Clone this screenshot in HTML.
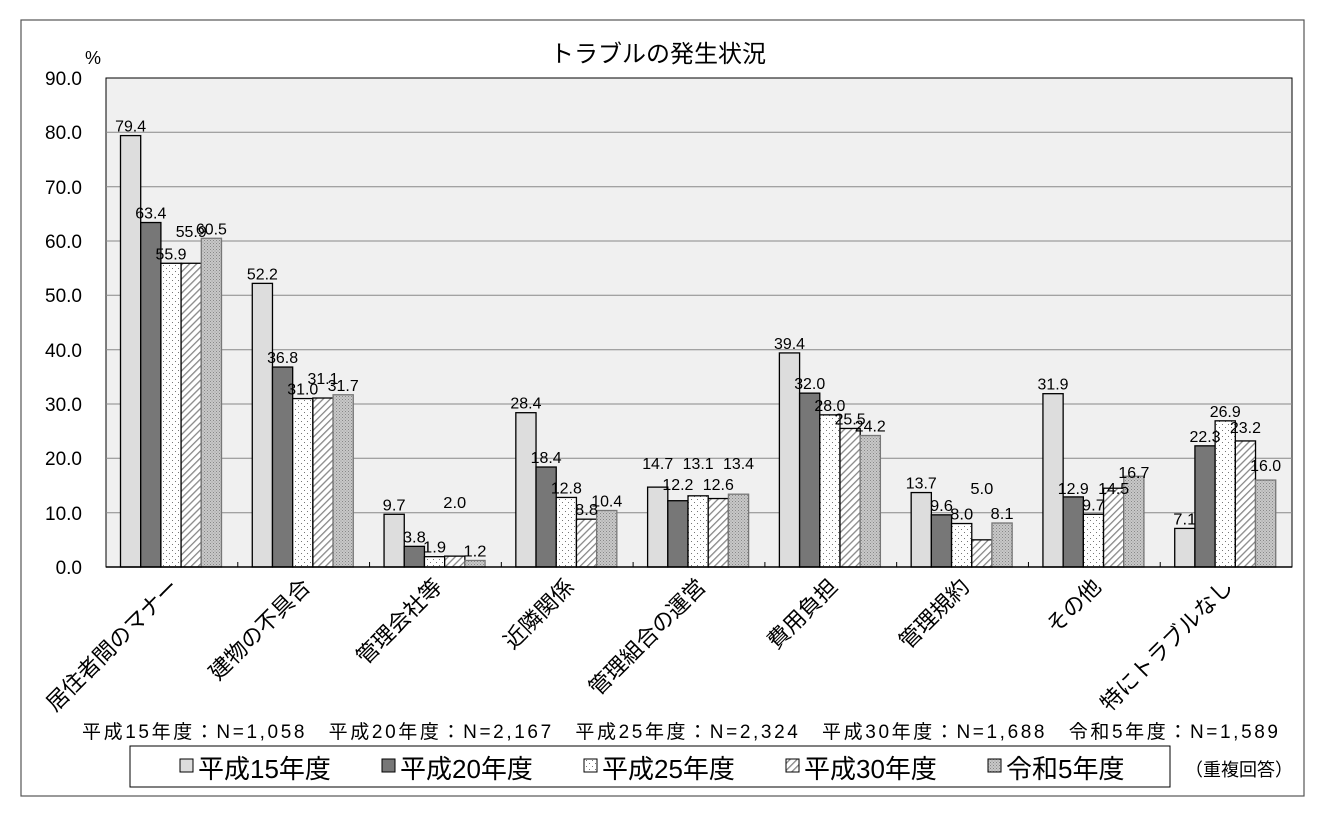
<!DOCTYPE html><html><head><meta charset="utf-8"><style>body{margin:0;background:#fff}svg{display:block}text{font-family:"Liberation Sans","Noto Sans CJK JP",sans-serif}</style></head><body>
<svg width="1324" height="818" viewBox="0 0 1324 818">
<defs>
<pattern id="dot" width="6" height="6" patternUnits="userSpaceOnUse"><rect width="6" height="6" fill="#fff"/><rect x="1" y="1" width="1" height="1" fill="#777"/><rect x="4" y="4" width="1" height="1" fill="#777"/></pattern>
<pattern id="hat" width="5" height="5" patternUnits="userSpaceOnUse" patternTransform="rotate(45)"><rect width="5" height="5" fill="#fff"/><rect width="1.3" height="5" fill="#888"/></pattern>
<pattern id="chk" width="3" height="3" patternUnits="userSpaceOnUse"><rect width="3" height="3" fill="#c8c8c8"/><rect width="1" height="1" fill="#888"/><rect x="1.5" y="1.5" width="1" height="1" fill="#999"/></pattern>
</defs>
<rect x="21" y="20" width="1283" height="776" fill="#fff" stroke="#555" stroke-width="1.2"/>
<text x="658" y="62" font-size="24" text-anchor="middle">トラブルの発生状況</text>
<text x="85" y="64" font-size="18">%</text>
<rect x="106" y="78" width="1186" height="489" fill="#f0f0f0" stroke="#000"/>
<g stroke="#888" stroke-width="1">
<line x1="106" x2="1292" y1="132.3" y2="132.3"/><line x1="106" x2="1292" y1="186.7" y2="186.7"/><line x1="106" x2="1292" y1="241" y2="241"/><line x1="106" x2="1292" y1="295.3" y2="295.3"/><line x1="106" x2="1292" y1="349.7" y2="349.7"/><line x1="106" x2="1292" y1="404" y2="404"/><line x1="106" x2="1292" y1="458.3" y2="458.3"/><line x1="106" x2="1292" y1="512.7" y2="512.7"/>
</g>
<g font-size="19" text-anchor="end">
<text x="82" y="85">90.0</text><text x="82" y="139">80.0</text><text x="82" y="194">70.0</text><text x="82" y="248">60.0</text><text x="82" y="302">50.0</text><text x="82" y="357">40.0</text><text x="82" y="411">30.0</text><text x="82" y="465">20.0</text><text x="82" y="520">10.0</text><text x="82" y="574">0.0</text>
</g>
<g id="bars"></g>
<line x1="106" x2="1292" y1="567" y2="567" stroke="#000" stroke-width="1.5"/>
<g id="ticks" stroke="#000"></g>
<g id="labels" font-size="22"></g>
<text x="82" y="738" font-size="19" textLength="1196" lengthAdjust="spacing">平成15年度：N=1,058　平成20年度：N=2,167　平成25年度：N=2,324　平成30年度：N=1,688　令和5年度：N=1,589</text>
<rect x="130" y="746" width="1040" height="41" fill="#fff" stroke="#000"/>
<g font-size="26">
<rect x="180" y="759" width="13" height="13" fill="#ddd" stroke="#000"/><text x="198" y="778">平成15年度</text>
<rect x="382" y="759" width="13" height="13" fill="#777" stroke="#000"/><text x="400" y="778">平成20年度</text>
<rect x="584" y="759" width="13" height="13" fill="url(#dot)" stroke="#000"/><text x="602" y="778">平成25年度</text>
<rect x="786" y="759" width="13" height="13" fill="url(#hat)" stroke="#000"/><text x="804" y="778">平成30年度</text>
<rect x="988" y="759" width="13" height="13" fill="url(#chk)" stroke="#000"/><text x="1006" y="778">令和5年度</text>
</g>
<text x="1185" y="776" font-size="18">（重複回答）</text>
</svg>
<script>
var d=[[79.4,63.4,55.9,55.9,60.5],[52.2,36.8,31.0,31.1,31.7],[9.7,3.8,1.9,2.0,1.2],[28.4,18.4,12.8,8.8,10.4],[14.7,12.2,13.1,12.6,13.4],[39.4,32.0,28.0,25.5,24.2],[13.7,9.6,8.0,5.0,8.1],[31.9,12.9,9.7,14.5,16.7],[7.1,22.3,26.9,23.2,16.0]];
var ly={"0,3":237,"1,3":384,"2,3":508,"4,0":469,"4,1":490,"4,2":469,"4,3":490,"4,4":469,"6,3":494,"7,1":494,"7,3":494,"7,4":478,"8,3":433,"8,4":471};
var names=["居住者間のマナー","建物の不具合","管理会社等","近隣関係","管理組合の運営","費用負担","管理規約","その他","特にトラブルなし"];
var fills=["#ddd","#777","url(#dot)","url(#hat)","url(#chk)"];
var strokes=["#000","#000","#000","#000","#777"];
var ns="http://www.w3.org/2000/svg",B=document.getElementById("bars"),T=document.getElementById("ticks"),L=document.getElementById("labels");
var gw=1186/9,bw=20.2,s=489/90;
function el(p,t,a,txt){var e=document.createElementNS(ns,t);for(var k in a)e.setAttribute(k,a[k]);if(txt)e.textContent=txt;p.appendChild(e);return e;}
for(var i=0;i<9;i++){
 var x0=106+14.5+gw*i;
 for(var j=0;j<5;j++){var v=d[i][j],x=x0+bw*j,h=v*s;
  el(B,"rect",{x:x,y:567-h,width:bw,height:h,fill:fills[j],stroke:strokes[j],"stroke-width":1.3});}
 for(var j=0;j<5;j++){var v=d[i][j],x=x0+bw*j,h=v*s,k=i+","+j,t=v.toFixed(1);
  var y=ly[k]!==undefined?ly[k]:567-h-4;
  el(B,"text",{x:x+bw/2,y:y,"font-size":16,"text-anchor":"middle",textLength:t.length>3?31:23,lengthAdjust:"spacingAndGlyphs"},t);}
 if(i>0)el(T,"line",{x1:106+gw*i,x2:106+gw*i,y1:562,y2:567});
 var cx=106+gw*i+gw/2+8;
 el(L,"text",{x:cx,y:588,"text-anchor":"end",transform:"rotate(-45 "+cx+" 588)"},names[i]);
}
</script>
</body></html>
